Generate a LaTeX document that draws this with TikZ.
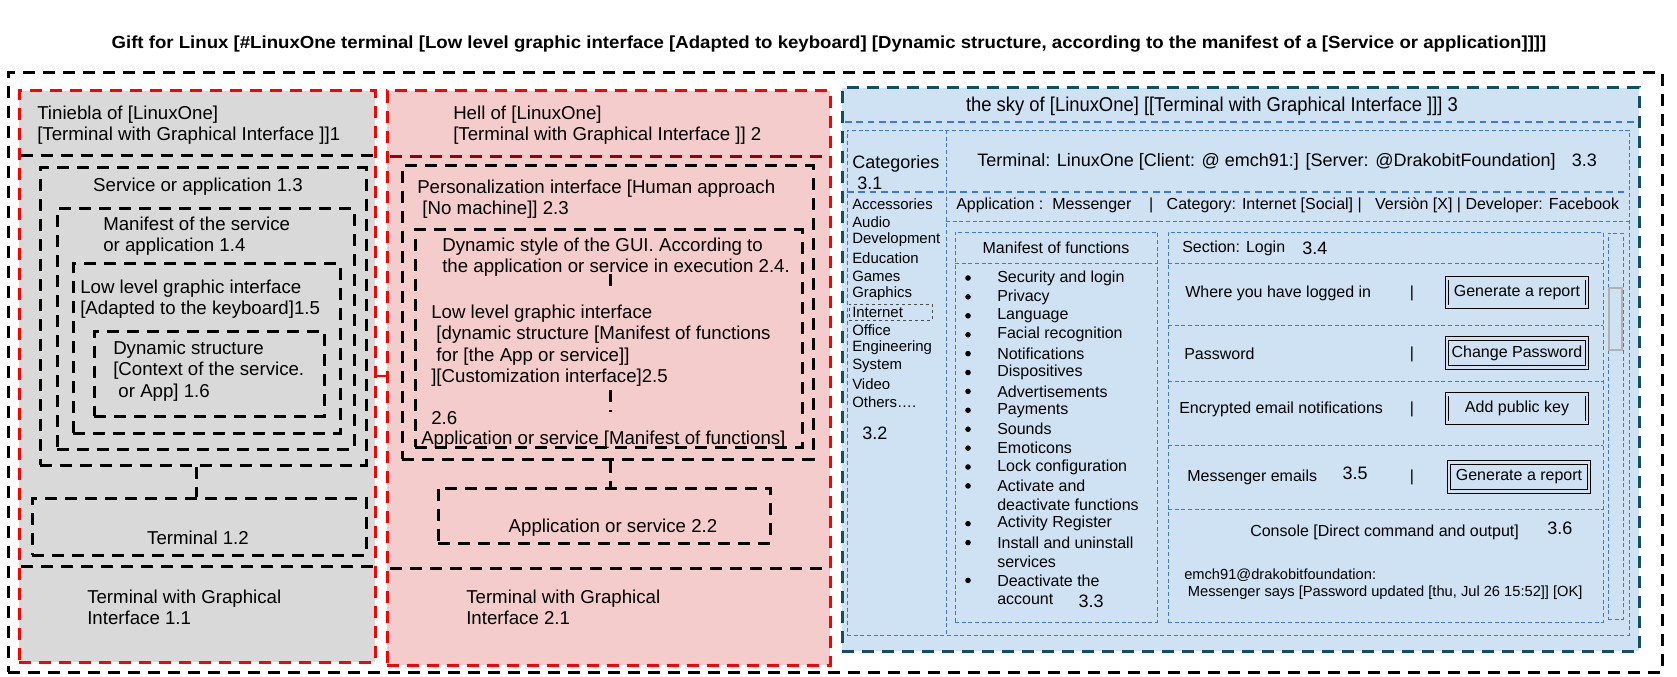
\documentclass[tikz,border=0pt]{standalone}
\usepackage{fontspec}
\usepackage{graphicx}
\setmainfont{Liberation Sans}
\usetikzlibrary{fit}
\definecolor{secgray}{HTML}{D9D9D9}
\definecolor{secpink}{HTML}{F4CCCC}
\definecolor{secblue}{HTML}{CFE2F3}
\definecolor{tealdk}{HTML}{134F5C}
\definecolor{blu}{HTML}{3C78D8}
\definecolor{dred}{HTML}{990000}
\definecolor{redd}{HTML}{FF0000}
\newcommand\ml[1]{\begin{tabular}[t]{@{}l@{}}#1\end{tabular}}
\begin{document}
\begin{tikzpicture}[x=0.75pt,y=-0.75pt,
  thickdash/.style={line width=2.25pt,dash pattern=on 9pt off 6pt},
  frame/.style={thickdash,draw=black,inner sep=0pt},
  sec/.style={thickdash,draw=redd,fill=#1,inner sep=0pt},
  box/.style={thickdash,draw=black,inner sep=0pt},
  sep/.style={thickdash,draw=black},
  conn/.style={thickdash,draw=black},
  thinb/.style={draw=blu,line width=0.6pt,dash pattern=on 3pt off 2pt,inner sep=0pt},
  midb/.style={draw=blu,line width=1.5pt,dash pattern=on 5pt off 3.5pt},
  txt/.style={inner sep=0pt,font=\fontsize{14}{16}\selectfont},
  htxt/.style={inner sep=0pt,font=\fontsize{15}{17}\selectfont},
  ttxt/.style={inner sep=0pt,font=\fontsize{13.5}{16}\selectfont},
  stxt/.style={inner sep=0pt,font=\fontsize{12}{14.2}\selectfont},
  ctxt/.style={inner sep=0pt,font=\fontsize{11.2}{13.5}\selectfont},
  kon/.style={inner sep=0pt,font=\fontsize{11}{13}\selectfont},
  btn/.style={draw=black,line width=0.6pt,double=secblue,double distance=2.2pt,
    minimum width=105pt,minimum height=21.5pt,inner sep=0pt,font=\fontsize{12}{14}\selectfont},
  bul/.style={circle,fill=black,inner sep=0pt,minimum size=4.2pt}
]
\useasboundingbox (0,0) rectangle (1677,677);

% title
\node[inner sep=0pt,font=\bfseries] (title) at (829,44)
  {\resizebox{1076pt}{9.5pt}{Gift for Linux [\#LinuxOne terminal [Low level graphic interface [Adapted to keyboard] [Dynamic structure, according to the manifest of a [Service or application]]]]}};

% frames
\node[frame,fit={(8,73) (1662,672)}] (outer) {};
\node[sec=secgray,fit={(19,91) (375,662)}] (s1) {};
\node[sec=secpink,fit={(387,91) (830,665)}] (s2) {};
\node[thickdash,draw=tealdk,fill=secblue,inner sep=0pt,fit={(842,88) (1639,651)}] (s3) {};

% link between sections 1 and 2
\coordinate (lk) at (0,376);
\draw[redd,line width=1.5pt] (s1.east |- lk) -- (s2.west |- lk);

% ---------- section 1 ----------
\node[txt,anchor=base west] (h1) at (37,119.5) {\ml{Tiniebla of [LinuxOne]\\{[}Terminal with Graphical Interface ]]1}};
\draw[sep] (21,156) -- (373,156);
\node[box,fit={(40,168) (366,465)}] (b13) {};
\node[txt] (t13) at (198,187) {Service or application 1.3};
\node[box,fit={(57,209) (354,449)}] (b14) {};
\node[txt,anchor=base west] (t14) at (103,230.5) {\ml{Manifest of the service\\or application 1.4}};
\node[box,fit={(73,264) (340,433)}] (b15) {};
\node[txt,anchor=base west] (t15) at (80,293.5) {\ml{Low level graphic interface\\{[}Adapted to the keyboard]1.5}};
\node[box,fit={(94,331) (324,416)}] (b16) {};
\node[txt,anchor=base west] (t16) at (113,354.5) {\ml{Dynamic structure\\{[}Context of the service.\\\hspace{0.28em}or App] 1.6}};
\node[box,fit={(32,498) (366,555)}] (b12) {};
\node[txt] (t12) at (198,538) {Terminal 1.2};
\coordinate (c1) at (196,0);
\draw[conn] (b13.south -| c1) -- (b12.north -| c1);
\draw[sep] (21,566) -- (373,566);
\node[txt,anchor=base west] (t11) at (87,603.5) {\ml{Terminal with Graphical\\Interface 1.1}};

% ---------- section 2 ----------
\node[txt,anchor=base west] (h2) at (453,119.5) {\ml{Hell of [LinuxOne]\\{[}Terminal with Graphical Interface ]] 2}};
\draw[thickdash,draw=dred] (390,157) -- (828,157);
\node[box,fit={(402,166) (813,459)}] (b23) {};
\node[txt,anchor=base west] (t23) at (417,193.5) {\ml{Personalization interface [Human approach\\\hspace{0.28em}[No machine]] 2.3}};
\node[box,fit={(415,230) (802,447)}] (b24) {};
\node[txt,anchor=base west] (t24) at (442,251.5) {\ml{Dynamic style of the GUI. According to\\the application or service in execution 2.4.}};
\node[txt,anchor=base west] (t25) at (431,318.5) {\ml{Low level graphic interface\\\hspace{0.28em}[dynamic structure [Manifest of functions\\\hspace{0.28em}for [the App or service]]\\{]}[Customization interface]2.5}};
\node[txt,anchor=base west] (t26a) at (431,424.5) {2.6};
\node[txt,anchor=base west] (t26) at (421,444.5) {Application or service [Manifest of functions]};
\coordinate (k1) at (610,274);
\coordinate (k2) at (610,294);
\coordinate (k3) at (610,390);
\coordinate (k4) at (610,412);
\draw[conn] (k1) -- (k2);
\draw[conn] (k3) -- (k4);
\node[box,fit={(438,488) (770,543)}] (b22) {};
\node[txt] (t22) at (613,528) {Application or service 2.2};
\coordinate (c2) at (610,0);
\draw[conn] (b23.south -| c2) -- (b22.north -| c2);
\draw[sep] (390,568) -- (828,568);
\node[txt,anchor=base west] (t21) at (466,603.5) {\ml{Terminal with Graphical\\Interface 2.1}};

% ---------- section 3 ----------
\node[htxt] (h3) at (1212,106) {\scalebox{0.92}[1]{the sky of [LinuxOne] [[Terminal with Graphical Interface ]]] 3}};
\draw[midb] (845,122) -- (1637,122);
\node[thinb,fit={(847,130) (1629,635)}] (in3) {};
\draw[thinb] (946,130) -- (946,635);
\draw[midb] (847,192) -- (1629,192);
\draw[thinb] (946,221) -- (1629,221);

\node[ttxt,anchor=base west] (t31) at (852,168.5) {\ml{Categories\\\hspace{0.28em}3.1}};
\node[ttxt,anchor=west] (t33a) at (977,162) {Terminal: LinuxOne [Client: @ emch91:] [Server: @DrakobitFoundation]\hspace{0.9em}3.3};
\node[stxt,anchor=west] (tapp) at (956,205) {Application :\ \ Messenger\ \ \ \ |\ \ \ Category: Internet [Social] |\ \ \ Versiòn [X] | Developer: Facebook};

% categories
\foreach \c [count=\i from 0] in {Accessories,Audio,Development,Education,Games,Graphics,Internet,Office,Engineering,System,Video,Others….}
  \node[ctxt,anchor=west] (cat\i) at (852,204+18*\i) {\c};
\node[draw=black!70,line width=0.6pt,dash pattern=on 2.5pt off 2pt,inner sep=0pt,fit={(849,304) (932,320)}] (catbox) {};
\node[ttxt,anchor=west] (t32) at (862,433) {3.2};

% manifest of functions
\node[thinb,fit={(955,232) (1157,622)}] (man) {};
\draw[thinb] (955,263) -- (1157,263);
\node[stxt] (manh) at (1056,248) {Manifest of functions};
\foreach \f [count=\i from 0] in {Security and login,Privacy,Language,Facial recognition,Notifications,Dispositives,Advertisements,Payments,Sounds,Emoticons,Lock configuration,Activate and,deactivate functions,Activity Register,Install and uninstall,services,Deactivate the,account}
  \node[stxt,anchor=west] (mf\i) at (997,278+18.9*\i) {\f};
\foreach \i in {0,...,11,13,14,16}
  \node[bul] (bl\i) at (968,278+18.9*\i) {};
\node[ttxt] (t33b) at (1091,601) {3.3};

% section login
\node[thinb,fit={(1168,232) (1603,622)}] (sect) {};
\draw[thinb] (1168,263) -- (1603,263);
\draw[thinb] (1168,325) -- (1603,325);
\draw[thinb] (1168,381) -- (1603,381);
\draw[thinb] (1168,445) -- (1603,445);
\draw[thinb] (1168,509) -- (1603,509);
\node[stxt,anchor=west] (sl) at (1182,248) {Section: Login};
\node[ttxt,anchor=west] (t34) at (1302,248) {3.4};

\node[stxt,anchor=west] (r1) at (1185,293) {Where you have logged in};
\node[stxt] (p1) at (1412,293) {|};
\node[btn] (bt1) at (1517,292.5) {Generate a report};

\node[stxt,anchor=west] (r2) at (1184,354) {Password};
\node[stxt] (p2) at (1412,354) {|};
\node[btn] (bt2) at (1517,353) {Change Password};

\node[stxt,anchor=west] (r3) at (1179,409) {Encrypted email notifications};
\node[stxt] (p3) at (1412,409) {|};
\node[btn] (bt3) at (1517,408.5) {Add public key};

\node[stxt,anchor=west] (r4) at (1187,477) {Messenger emails};
\node[ttxt] (t35) at (1355,473) {3.5};
\node[stxt] (p4) at (1412,477) {|};
\node[btn] (bt4) at (1519,477) {Generate a report};

\node[stxt,anchor=west] (con) at (1250,532) {Console [Direct command and output]};
\node[ttxt,anchor=west] (t36) at (1547,528) {3.6};
\node[kon,anchor=base west] (cout) at (1184,579) {\ml{emch91@drakobitfoundation:\\\hspace{0.25em}Messenger says [Password updated [thu, Jul 26 15:52]] [OK]}};

% scroll column
\node[thinb,fit={(1608,233) (1623,619)}] (scroll) {};
\node[draw=black!30,line width=1.1pt,inner sep=0pt,fit={(1609,288) (1622,350)}] (thumb) {};
\end{tikzpicture}
\end{document}
